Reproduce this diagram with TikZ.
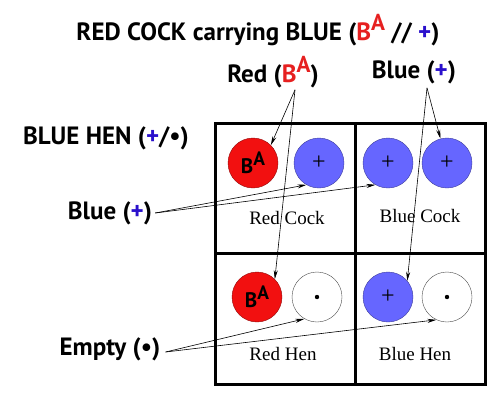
\documentclass[tikz,border=0pt]{standalone}
\usepackage{fontspec}
\setmainfont{Liberation Serif}
\newfontfamily\labfont{PT Sans}
\usepackage{graphicx}
\definecolor{alleleRed}{HTML}{E62020}
\definecolor{alleleBlue}{HTML}{2A10CC}
\definecolor{discRed}{HTML}{F21010}
\definecolor{discBlue}{HTML}{6666FF}
\usetikzlibrary{arrows.meta}

\newcommand{\BAsym}{B\raisebox{0.38em}{\scalebox{0.92}{A}}}
\newcommand{\plussym}{\textcolor{alleleBlue}{+}}

\begin{document}
\begin{tikzpicture}[x=1pt, y=-1pt,
  heading/.style={font=\labfont\bfseries\fontsize{25}{28}\selectfont, inner sep=0pt},
  disc/.style={circle, draw=#1!60!black, minimum size=50pt, inner sep=0pt},
  cellname/.style={font=\fontsize{19}{22}\selectfont, inner sep=0pt},
  grid/.style={line width=3pt},
  pointer/.style={line width=0.6pt, -{Stealth[length=9pt, width=4pt]}},
]
\useasboundingbox (0,0) rectangle (500,400);

% titles
\node[heading] (title) at (258,30)
  {RED COCK carrying BLUE (\textcolor{alleleRed}{\BAsym} // \plussym)};
\node[heading] (redlab) at (273,72) {Red (\textcolor{alleleRed}{\BAsym})};
\node[heading] (bluetop) at (414,72) {Blue (\plussym)};
\node[heading] (henlab) at (106,138) {BLUE HEN (\plussym/\textbullet)};
\node[heading] (blueleft) at (110,213) {Blue (\plussym)};
\node[heading] (emptylab) at (110,349) {Empty (\textbullet)};

% grid
\draw[grid] (215,123) rectangle (485,384);
\draw[grid] (355,123) -- (355,384);
\draw[grid] (215,253) -- (485,253);

% Red Cock
\node[disc=discRed, fill=discRed, font=\labfont\bfseries\fontsize{21}{22}\selectfont] (rc1) at (253,163) {\BAsym};
\node[disc=discBlue, fill=discBlue, font=\fontsize{24}{24}\selectfont] (rc2) at (319,163) {+};
\node[cellname] (rcname) at (287,218) {Red Cock};

% Blue Cock
\node[disc=discBlue, fill=discBlue, font=\fontsize{24}{24}\selectfont] (bc1) at (388,163) {+};
\node[disc=discBlue, fill=discBlue, font=\fontsize{24}{24}\selectfont] (bc2) at (447,163) {+};
\node[cellname] (bcname) at (420,216) {Blue Cock};

% Red Hen
\node[disc=discRed, fill=discRed, font=\labfont\bfseries\fontsize{21}{22}\selectfont] (rh1) at (257,297) {\BAsym};
\node[disc=gray, fill=white] (rh2) at (317,297) {};
\fill (rh2.center) circle (2.2pt);
\node[cellname] (rhname) at (283,354) {Red Hen};

% Blue Hen
\node[disc=discBlue, fill=discBlue, font=\fontsize{24}{24}\selectfont] (bh1) at (388,297) {+};
\node[disc=gray, fill=white] (bh2) at (447,297) {};
\fill (bh2.center) circle (2.2pt);
\node[cellname] (bhname) at (415,354) {Blue Hen};

% pointers
\draw[pointer] ([xshift=22pt, yshift=-2pt]redlab.south) -- (rc1.north east);
\draw[pointer] ([xshift=22pt, yshift=-2pt]redlab.south) -- (rh1.north east);
\draw[pointer] ([xshift=13pt, yshift=-4pt]bluetop.south) -- (bc2.105);
\draw[pointer] ([xshift=13pt, yshift=-4pt]bluetop.south) -- (bh1.40);
\draw[pointer] ([xshift=3pt]blueleft.east) -- (rc2.240);
\draw[pointer] ([xshift=3pt]blueleft.east) -- (bc1.240);
\draw[pointer] ([xshift=5pt, yshift=-3pt]emptylab.east) -- (rh2.240);
\draw[pointer] ([xshift=5pt, yshift=-3pt]emptylab.east) -- (bh2.245);

\end{tikzpicture}
\end{document}
